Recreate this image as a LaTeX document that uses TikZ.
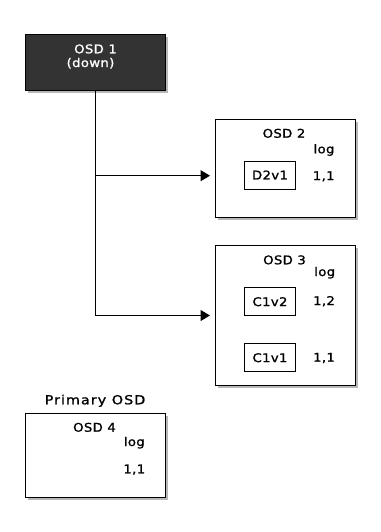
\documentclass[tikz,border=0pt]{standalone}
\usepackage{fontspec}
\setmainfont[FakeStretch=1.1,LetterSpace=3,FakeBold=1.2]{DejaVu Sans}
\newfontfamily\primfont[FakeStretch=1.15,LetterSpace=8,FakeBold=1.2]{DejaVu Sans}
\usetikzlibrary{arrows.meta,shadows}
\definecolor{darkbox}{HTML}{333333}
\begin{document}
\begin{tikzpicture}[x=1pt,y=-1pt,
  osdbox/.style={draw=black,line width=1pt,fill=white,minimum width=140pt,inner sep=0pt,
    drop shadow={shadow xshift=2.5pt,shadow yshift=-2.5pt,fill=black,opacity=0.28}},
  objbox/.style={draw=black,line width=0.9pt,fill=white,minimum width=51pt,minimum height=28pt,inner sep=0pt,
    font=\fontsize{12}{14}\selectfont},
  txt/.style={inner sep=0pt,anchor=base,font=\fontsize{12}{14}\selectfont},
  conn/.style={draw=black,line width=1pt},
  arr/.style={conn,-{Triangle[length=9.5pt,width=11pt]},shorten >=4.5pt}]
\useasboundingbox[fill=white] (0,0) rectangle (380,532);

% boxes
\node[osdbox,fill=darkbox,minimum height=56pt] (osd1) at (95.5,63) {};
\node[osdbox,minimum height=98pt] (osd2) at (285,168) {};
\node[osdbox,minimum height=140pt] (osd3) at (285,315) {};
\node[osdbox,minimum height=84pt] (osd4) at (95,455) {};

% OSD 1
\node[txt,text=white] (t1a) at (95.5,53.3) {OSD 1};
\node[txt,text=white] (t1b) at (90.5,67) {(down)};

% OSD 2
\node[txt] (t2a) at (284,137.7) {OSD 2};
\node[txt] (t2b) at (324,153.3) {log};
\node[objbox] (d2v1) at (270,175) {D2v1};
\node[txt] (t2c) at (323.7,180) {1,1};

% OSD 3
\node[txt] (t3a) at (284.5,264.3) {OSD 3};
\node[txt] (t3b) at (324.7,276) {log};
\node[objbox] (c1v2) at (270,301.7) {C1v2};
\node[txt] (t3c) at (324,305) {1,2};
\node[objbox] (c1v1) at (270,357.7) {C1v1};
\node[txt] (t3d) at (324,361.7) {1,1};

% OSD 4
\node[inner sep=0pt,anchor=base,font=\fontsize{12.5}{14}\primfont] (prim) at (95,404.3) {Primary OSD};
\node[txt] (t4a) at (94.5,431.7) {OSD 4};
\node[txt] (t4b) at (134.3,446) {log};
\node[txt] (t4c) at (134.3,473.3) {1,1};

% connectors
\coordinate (j2) at (95.3,175.7);
\coordinate (j3) at (95.3,315.5);
\draw[conn] (osd1.south -| j2) -- (j3);
\draw[arr] (j2) -- (j2 -| osd2.west);
\draw[arr] (j3) -- (j3 -| osd3.west);
\end{tikzpicture}
\end{document}
